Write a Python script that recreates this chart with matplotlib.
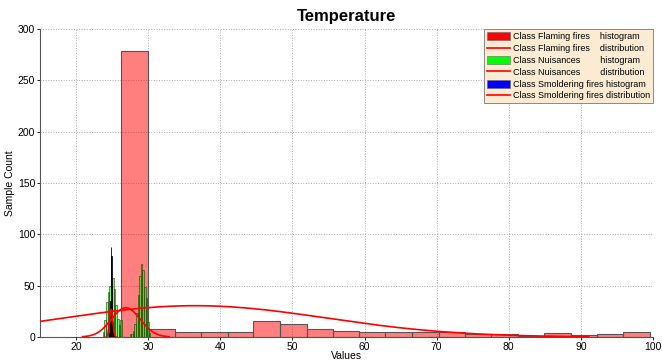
import numpy as np
import matplotlib
matplotlib.use("Agg")
import matplotlib.pyplot as plt
from matplotlib.patches import Patch
from matplotlib.lines import Line2D

plt.rcParams['font.family'] = ['Liberation Sans', 'DejaVu Sans']

# ---- data ----
flaming_edges = [26.3, 30.0, 33.7, 37.3, 41.0, 44.6, 48.3, 52.0, 55.6, 59.3, 62.9,
                 66.6, 70.3, 73.9, 77.6, 81.3, 84.9, 88.6, 92.2, 95.9, 99.6]
flaming_counts = [279, 8, 5, 5, 5, 16, 13, 8, 6, 5, 5, 5, 5, 3, 3, 1, 4, 2, 3, 5]

nuis_edges = [23.70, 23.92, 24.14, 24.36, 24.58, 24.80, 25.02, 25.24, 25.46, 25.68,
              25.90, 26.12, 26.34, 26.56, 26.78, 27.00, 27.22, 27.44, 27.66, 27.88,
              28.10, 28.32, 28.54, 28.76, 28.98, 29.20, 29.42, 29.64, 29.86, 30.08, 30.30]
nuis_counts = [5, 17, 34, 44, 50, 48, 57, 47, 31, 18, 12, 17, 0, 0, 0, 0, 0, 3, 3, 6,
               13, 23, 41, 59, 71, 65, 49, 38, 15, 4]

smold_edges = [24.55, 24.60, 24.65, 24.70, 24.75, 24.80, 24.85, 24.90, 24.95, 25.00,
               25.05, 25.10, 25.15, 25.20, 25.25]
smold_counts = [2, 4, 8, 18, 35, 60, 88, 79, 50, 30, 15, 6, 3, 1]

# fitted normal distributions: (mean, std, peak height)
flaming_fit = (36.5, 18.2, 30.5)
nuis_fit = (26.9, 2.0, 28.5)
smold_fit = (24.87, 0.22, 27.0)

labels = ["Class Flaming fires    histogram",
          "Class Flaming fires    distribution",
          "Class Nuisances        histogram",
          "Class Nuisances        distribution",
          "Class Smoldering fires histogram",
          "Class Smoldering fires distribution"]

x_ticks = [20, 30, 40, 50, 60, 70, 80, 90, 100]
y_ticks = [0, 50, 100, 150, 200, 250, 300]

# ---- figure ----
fig = plt.figure(figsize=(6.62, 3.60), dpi=100)
ax = fig.add_axes([40/662, 1-337/360, 613/662, 308/360])


def hist(edges, counts, face, edge, lw):
    e = np.asarray(edges)
    ax.bar(e[:-1], counts, width=np.diff(e), align='edge', color=face,
           edgecolor=edge, linewidth=lw, zorder=2)


def dist(fit):
    mu, sd, peak = fit
    xs = np.linspace(mu - 3*sd, mu + 3*sd, 300)
    ax.plot(xs, peak*np.exp(-(xs-mu)**2/(2*sd**2)), color='red', lw=1.2, zorder=4)


hist(flaming_edges, flaming_counts, (1, 0, 0, 0.5), '#555555', 0.8)
dist(flaming_fit)
hist(nuis_edges, nuis_counts, (0, 1, 0, 0.5), '#1a3a00', 0.4)
dist(nuis_fit)
hist(smold_edges, smold_counts, (0, 0, 1, 0.5), 'black', 0.6)
dist(smold_fit)

ax.set_xlim(15, 100)
ax.set_ylim(0, 300)
ax.set_xticks(x_ticks)
ax.set_yticks(y_ticks)
ax.tick_params(labelsize=7.5, length=2, width=0.6, direction='out', pad=1.5)
ax.grid(True, linestyle=':', color='#aaaaaa', linewidth=0.7)
ax.set_axisbelow(True)
for s in ['top', 'right']:
    ax.spines[s].set_visible(False)
for s in ['left', 'bottom']:
    ax.spines[s].set_color('#555555')
    ax.spines[s].set_linewidth(0.8)

ax.set_title("Temperature", fontsize=12, fontweight='bold', pad=6)
ax.set_xlabel("Values", fontsize=7.5)
ax.xaxis.set_label_coords(0.5, -0.044)
ax.set_ylabel("Sample Count", fontsize=7.5)
ax.yaxis.set_label_coords(-0.041, 0.5)

handles = [Patch(facecolor='red', edgecolor='#666666', linewidth=0.4),
           Line2D([], [], color='red', lw=1.2),
           Patch(facecolor='#00ff00', edgecolor='#666666', linewidth=0.4),
           Line2D([], [], color='red', lw=1.2),
           Patch(facecolor='blue', edgecolor='#666666', linewidth=0.4),
           Line2D([], [], color='red', lw=1.2)]
leg = ax.legend(handles, labels, loc='upper right', fontsize=6.5, frameon=True,
                fancybox=False, borderaxespad=0.05, handlelength=2.6,
                handleheight=1.0, handletextpad=0.25, labelspacing=0.3,
                borderpad=0.3)
leg.get_frame().set_facecolor('#FAEBD2')
leg.get_frame().set_edgecolor('#888888')
leg.get_frame().set_linewidth(0.7)
leg.get_frame().set_alpha(1)

fig.savefig("out.png", dpi=100)
